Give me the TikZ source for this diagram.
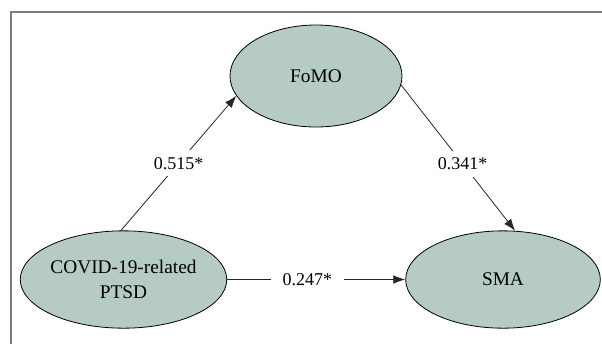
\documentclass[tikz,border=0pt]{standalone}
\usepackage{fontspec}
\setmainfont{Liberation Serif}
\usetikzlibrary{shapes.geometric,arrows.meta}

\definecolor{latentfill}{RGB}{181,203,195}
\definecolor{framegray}{RGB}{125,125,125}

\tikzset{every picture/.style={line width=0.75pt}}
\tikzset{
  latent/.style={ellipse,draw=black,line width=0.6pt,fill=latentfill,inner sep=0pt,align=center,font=\fontsize{14.5}{18.5}\selectfont},
  effect/.style={draw=black!85,line width=0.6pt,-{Latex[length=9pt,width=6.5pt]}},
  coef/.style={fill=white,inner xsep=9pt,inner ysep=5pt,font=\fontsize{13.5}{16}\selectfont}
}

\begin{document}
\begin{tikzpicture}[x=0.75pt,y=0.75pt,yscale=-1,xscale=1]
\useasboundingbox (0,0) rectangle (602,344);

%Frame
\draw [framegray,line width=0.9pt] (602,12) -- (11,12) -- (11,344) ;

%Shape: Ellipse [FoMO]
\node [latent,minimum width=129pt,minimum height=76.5pt] (fomo) at (316,76) {FoMO};
%Shape: Ellipse [PTSD]
\node [latent,minimum width=146pt,minimum height=73pt] (ptsd) at (123.5,279.5) {COVID-19-related\\PTSD};
%Shape: Ellipse [SMA]
\node [latent,minimum width=146pt,minimum height=73pt] (sma) at (503,279.5) {SMA};

%Straight Lines with coefficients
\draw [effect] (ptsd.93) -- node [coef] {0.515*} (fomo.194) ;
\draw [effect] (fomo.-6) -- node [coef,pos=0.54] {0.341*} (sma.76) ;
\draw [effect] (ptsd.east) -- node [coef,pos=0.45] {0.247*} (sma.west) ;
\end{tikzpicture}
\end{document}
